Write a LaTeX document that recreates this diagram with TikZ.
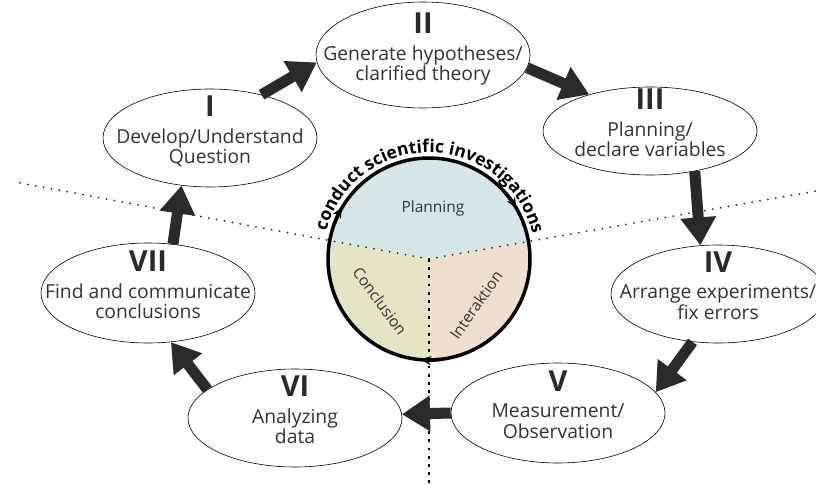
\documentclass[tikz,border=0pt]{standalone}
\usepackage{fontspec}
\setmainfont{Open Sans}
\usetikzlibrary{shapes.geometric,arrows.meta,decorations.text}
\definecolor{txt}{HTML}{333333}
\definecolor{arr}{HTML}{2A2A2A}
\definecolor{planfill}{HTML}{D6E6E8}
\definecolor{conclfill}{HTML}{E4E5C4}
\definecolor{interfill}{HTML}{F0DFCE}
% stage text: numeral + two lines, set in a zero-size box so the ellipse keeps its given size
\newcommand\stagetext[3]{\makebox[0pt]{\smash{\begin{tabular}[c]{@{}c@{}}%
  {\fontsize{29}{29}\selectfont\bfseries\color{arr}#1}\\[6pt]#2\\#3\end{tabular}}}}
\begin{document}
\begin{tikzpicture}[x=1pt,y=1pt,
  stage/.style={ellipse, draw, fill=white, line width=0.6pt, minimum width=214pt,
    inner sep=0pt, text=txt, font=\fontsize{19.3}{20}\selectfont},
  flow/.style={line width=11pt, draw=arr, -{Triangle[width=34pt,length=28pt]}},
  slantdiv/.style={line width=2pt, line cap=round, dash pattern=on 0pt off 8pt, draw=black!85},
  vertdiv/.style={line width=2.8pt, dash pattern=on 2.8pt off 5.4pt, draw=black},
  sectorlabel/.style={text=txt, font=\fontsize{15.5}{16}\selectfont},
  rimtip/.style={line width=3.5pt, -{Stealth[length=11pt,width=9pt]}},
]
\useasboundingbox (0,0) rectangle (816,483);

% central disc
\coordinate (C) at (429,224);
\coordinate (Lend) at (15,301);
\coordinate (Rend) at (816,292);
\coordinate (Bend) at (429,0);
\fill[planfill] (C) -- ++(10:101) arc[start angle=10,end angle=169.5,radius=101] -- cycle;
\fill[conclfill] (C) -- ++(169.5:101) arc[start angle=169.5,end angle=270,radius=101] -- cycle;
\fill[interfill] (C) -- ++(270:101) arc[start angle=270,end angle=370,radius=101] -- cycle;
\draw[slantdiv] (C) -- (Lend);
\draw[slantdiv] (C) -- (Rend);
\draw[vertdiv] (C) -- (Bend);
\draw[line width=3.5pt] (C) circle[radius=101];
\draw[rimtip] (C) ++(160:101) arc[start angle=160,end angle=149,radius=101];
\draw[rimtip] (C) ++(41:101) arc[start angle=41,end angle=30,radius=101];
\draw[rimtip] (C) ++(276:101) arc[start angle=276,end angle=265,radius=101];
\path[decorate, decoration={text along path, text align=fit to path, text color=black,
   text={|\fontsize{17.5}{17.5}\selectfont\bfseries|conduct scientific investigations}}]
   (C) ++(165:106.5) arc[start angle=165,end angle=15,radius=106.5];

\node[sectorlabel] (plan) at (433,275) {Planning};
\node[sectorlabel, rotate=-54] (concl) at (380,182) {Conclusion};
\node[sectorlabel, rotate=55] (inter) at (476,178) {Interaktion};

% stages
\node[stage, minimum height=98pt]  (I)   at (210,345) {\stagetext{I}{Develop/Understand}{Question}};
\node[stage, minimum height=106pt] (II)  at (423,428) {\stagetext{II}{Generate hypotheses/}{clarified theory}};
\node[stage, minimum height=88pt]  (III) at (650,352) {\stagetext{III}{Planning/}{declare variables}};
\node[stage, minimum height=98pt]  (IV)  at (718,189) {\stagetext{IV}{Arrange experiments/}{fix errors}};
\node[stage, minimum height=100pt] (V)   at (558,70)  {\stagetext{V}{Measurement/}{Observation}};
\node[stage, minimum height=98pt]  (VI)  at (295,65)  {\stagetext{VI}{Analyzing}{data}};
\node[stage, minimum height=100pt] (VII) at (148,190) {\stagetext{VII}{Find and communicate}{conclusions}};

% flow arrows
\draw[flow] (I.40) -- (II.184);
\draw[flow] (II.-7) -- (III.149);
\draw[flow] (III.-42) -- (IV.110);
\draw[flow] (IV.-118) -- (V.12);
\draw[flow] (V.180) -- (VI.2);
\draw[flow] (VI.162) -- (VII.-65);
\draw[flow] (VII.63) -- (I.-121);
\end{tikzpicture}
\end{document}
